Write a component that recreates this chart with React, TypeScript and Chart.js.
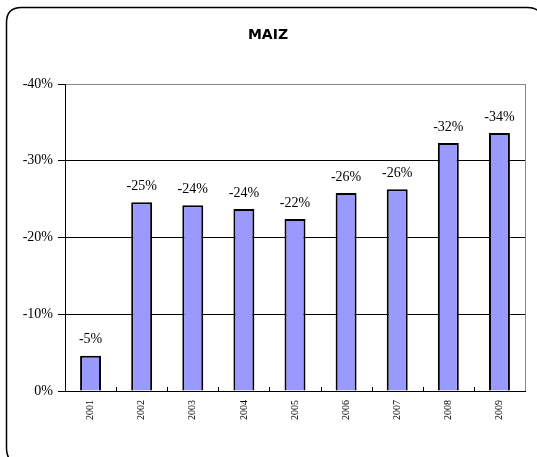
import React, { useEffect, useRef } from "react";
import { Chart, registerables } from "chart.js";

Chart.register(...registerables);

const title = "MAIZ";
const years = ["2001", "2002", "2003", "2004", "2005", "2006", "2007", "2008", "2009"];
const values = [-4.6, -24.6, -24.2, -23.7, -22.4, -25.8, -26.3, -32.3, -33.6];
const yTicks = [-40, -30, -20, -10, 0];

const framePlugin = {
  id: "frame",
  beforeDraw(chart: any) {
    const ctx = chart.ctx;
    ctx.save();
    ctx.fillStyle = "#ffffff";
    ctx.fillRect(0, 0, chart.width, chart.height);
    ctx.restore();
  },
  afterDraw(chart: any) {
    const ctx = chart.ctx;
    ctx.save();
    const x = 6.5, y = 7.5, w = 536, h = 456, r = 15;
    ctx.beginPath();
    ctx.moveTo(x + r, y);
    ctx.lineTo(x + w - r, y);
    ctx.quadraticCurveTo(x + w, y, x + w, y + r);
    ctx.lineTo(x + w, y + h - r);
    ctx.quadraticCurveTo(x + w, y + h, x + w - r, y + h);
    ctx.lineTo(x + r, y + h);
    ctx.quadraticCurveTo(x, y + h, x, y + h - r);
    ctx.lineTo(x, y + r);
    ctx.quadraticCurveTo(x, y, x + r, y);
    ctx.closePath();
    ctx.lineWidth = 1.5;
    ctx.strokeStyle = "#000000";
    ctx.stroke();
    ctx.fillStyle = "#000000";
    ctx.font = "bold 14px 'DejaVu Sans'";
    ctx.textAlign = "center";
    ctx.textBaseline = "middle";
    ctx.fillText(title, 268, 35);
    ctx.restore();
  },
};

const extrasPlugin = {
  id: "extras",
  afterDatasetsDraw(chart: any) {
    const ctx = chart.ctx;
    const area = chart.chartArea;
    const xs = chart.scales.x;
    ctx.save();
    ctx.strokeStyle = "#888888";
    ctx.lineWidth = 1;
    ctx.beginPath();
    ctx.moveTo(area.right + 0.5, area.top);
    ctx.lineTo(area.right + 0.5, area.bottom);
    ctx.stroke();
    ctx.strokeStyle = "#000000";
    const n = years.length;
    for (let i = 1; i < n; i++) {
      const px = Math.round((xs.getPixelForTick(i - 1) + xs.getPixelForTick(i)) / 2) + 0.5;
      ctx.beginPath();
      ctx.moveTo(px, area.bottom);
      ctx.lineTo(px, area.bottom - 4);
      ctx.stroke();
    }
    const meta = chart.getDatasetMeta(0);
    ctx.fillStyle = "#000000";
    ctx.font = "14px 'Liberation Serif'";
    ctx.textAlign = "center";
    ctx.textBaseline = "middle";
    meta.data.forEach((bar: any, i: number) => {
      ctx.fillText(Math.round(values[i]) + "%", bar.x, bar.y - 16);
    });
    ctx.restore();
  },
};

export default function App() {
  const ref = useRef<HTMLCanvasElement>(null);
  useEffect(() => {
    if (!ref.current) return;
    const chart = new Chart(ref.current, {
      type: "bar",
      data: {
        labels: years,
        datasets: [
          {
            data: values,
            backgroundColor: "#9999FF",
            borderColor: "#000000",
            borderWidth: 2,
            barPercentage: 0.41,
            categoryPercentage: 1,
          },
        ],
      },
      options: {
        animation: false,
        responsive: false,
        layout: { padding: { left: 0, right: 12, top: 84, bottom: 0 } },
        plugins: {
          legend: { display: false },
          tooltip: { enabled: false },
          title: { display: false },
        },
        scales: {
          x: {
            offset: true,
            grid: { display: false, drawTicks: false },
            border: { display: true, color: "#000000", width: 1 },
            ticks: {
              minRotation: 90,
              maxRotation: 90,
              padding: 9,
              color: "#000000",
              font: { family: "'Liberation Serif'", size: 10 },
            },
            afterFit(scale: any) {
              scale.height = 66;
            },
          },
          y: {
            reverse: true,
            min: -40,
            max: 0,
            afterBuildTicks(scale: any) {
              scale.ticks = yTicks.map((v) => ({ value: v }));
            },
            grid: {
              color: (c: any) => (c.tick && c.tick.value === -40 ? "#888888" : "#000000"),
              tickColor: "#000000",
              tickLength: 7,
              lineWidth: 1,
            },
            border: { display: true, color: "#000000", width: 1 },
            ticks: {
              padding: 5,
              color: "#000000",
              font: { family: "'Liberation Serif'", size: 14 },
              callback: (v: any) => v + "%",
            },
            afterFit(scale: any) {
              scale.width = 65;
            },
          },
        },
      },
      plugins: [framePlugin, extrasPlugin],
    });
    return () => chart.destroy();
  }, []);
  return (
    <div style={{ position: "fixed", left: 0, top: 0, width: 537, height: 457, background: "#fff" }}>
      <canvas ref={ref} width={537} height={457} style={{ display: "block" }} />
    </div>
  );
}
